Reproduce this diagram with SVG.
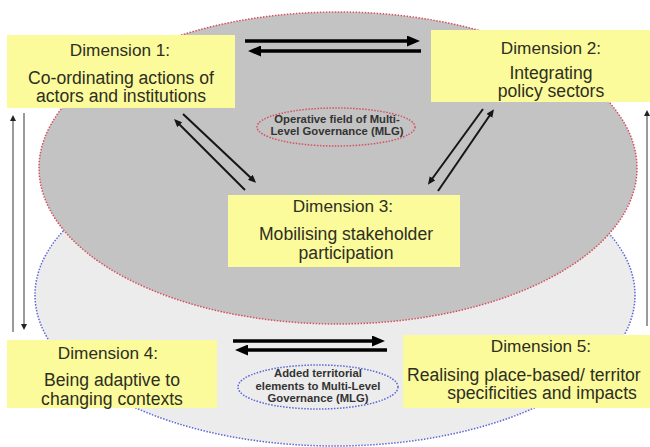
<svg xmlns="http://www.w3.org/2000/svg" width="650" height="447" viewBox="0 0 650 447">
  <style>
    .box { fill: #fbfb9c; }
    .head { font-family: "Liberation Sans", Arial, sans-serif; font-size: 17.2px; fill: #2e2e22; text-anchor: middle; }
    .body { font-family: "Liberation Sans", Arial, sans-serif; font-size: 17.6px; fill: #2e2e22; text-anchor: middle; }
    .small { font-family: "Liberation Sans", Arial, sans-serif; font-size: 11.3px; font-weight: bold; fill: #333333; text-anchor: middle; }
    .thick { stroke: #000000; stroke-width: 3.5; fill: none; }
    .thin { stroke: #161616; stroke-width: 2; fill: none; }
    .vert { stroke: #9a9a9a; stroke-width: 2; fill: none; }
  </style>
  <defs>
    <marker id="bigHead" markerUnits="userSpaceOnUse" markerWidth="13" markerHeight="11" refX="1" refY="5.5" orient="auto">
      <path d="M0,0 L13,5.5 L0,11 z" fill="#000000"/>
    </marker>
    <marker id="smallHead" markerUnits="userSpaceOnUse" markerWidth="8" markerHeight="7" refX="1" refY="3.5" orient="auto">
      <path d="M0,0 L8,3.5 L0,7 z" fill="#161616"/>
    </marker>
    <marker id="tinyHead" markerUnits="userSpaceOnUse" markerWidth="6" markerHeight="6" refX="1" refY="3" orient="auto">
      <path d="M0,0 L6,3 L0,6 z" fill="#222222"/>
    </marker>
  </defs>

  <rect x="0" y="0" width="650" height="447" fill="#ffffff"/>

  <!-- fields -->
  <g id="territorial-field">
    <ellipse cx="335" cy="295" rx="300" ry="151" fill="#ececec" stroke="#5a66d6" stroke-width="1.5" stroke-dasharray="1.5 1.5"/>
  </g>
  <g id="operative-field">
    <ellipse cx="338" cy="168" rx="299" ry="156" fill="#c3c3c3" stroke="#d6505e" stroke-width="1.5" stroke-dasharray="1.5 1.5"/>
  </g>

  <g id="mlg-operative">
    <ellipse cx="336" cy="127" rx="79" ry="19" fill="none" stroke="#d6505e" stroke-width="1.5" stroke-dasharray="1.5 1.5"/>
    <text class="small" x="337" y="123">Operative field of Multi-</text>
    <text class="small" x="337" y="135">Level Governance (MLG)</text>
  </g>

  <g id="mlg-added">
    <ellipse cx="318" cy="387" rx="80" ry="22" fill="none" stroke="#5a66d6" stroke-width="1.5" stroke-dasharray="1.5 1.5"/>
    <text class="small" x="318" y="377">Added territorial</text>
    <text class="small" x="318" y="389.5">elements to Multi-Level</text>
    <text class="small" x="318" y="402">Governance (MLG)</text>
  </g>

  <g id="dim1">
    <rect class="box" x="7" y="35" width="228" height="73"/>
    <text class="head" x="120" y="56">Dimension 1:</text>
    <text class="body" x="121" y="83.5">Co-ordinating actions of</text>
    <text class="body" x="121" y="102">actors and institutions</text>
  </g>

  <g id="dim2">
    <rect class="box" x="431" y="30" width="219" height="72"/>
    <text class="head" x="551" y="54">Dimension 2:</text>
    <text class="body" x="551" y="78.5">Integrating</text>
    <text class="body" x="551" y="97">policy sectors</text>
  </g>

  <g id="dim3">
    <rect class="box" x="228" y="195" width="232" height="72"/>
    <text class="head" x="343" y="212">Dimension 3:</text>
    <text class="body" x="346" y="240">Mobilising stakeholder</text>
    <text class="body" x="346" y="258.5">participation</text>
  </g>

  <g id="dim4">
    <rect class="box" x="7" y="340" width="210" height="68"/>
    <text class="head" x="108" y="359">Dimension 4:</text>
    <text class="body" x="112" y="386">Being adaptive to</text>
    <text class="body" x="112" y="404.5">changing contexts</text>
  </g>

  <g id="dim5">
    <rect class="box" x="403" y="335" width="247" height="73"/>
    <text class="head" x="541" y="352">Dimension 5:</text>
    <text class="body" x="407" y="380.5" style="text-anchor:start">Realising place-based/ territor</text>
    <text class="body" x="542" y="399">specificities and impacts</text>
  </g>

  <g id="connectors">
    <!-- top pair: Dim1 <-> Dim2 -->
    <line class="thick" x1="245" y1="41" x2="408" y2="41" marker-end="url(#bigHead)"/>
    <line class="thick" x1="421" y1="51" x2="260" y2="51" marker-end="url(#bigHead)"/>
    <!-- bottom pair: Dim4 <-> Dim5 -->
    <line class="thick" x1="233" y1="341" x2="373" y2="341" marker-end="url(#bigHead)"/>
    <line class="thick" x1="387" y1="350" x2="247" y2="350" marker-end="url(#bigHead)"/>
    <!-- Dim1 <-> Dim3 -->
    <line class="thin" x1="183" y1="114" x2="251" y2="178" marker-end="url(#smallHead)"/>
    <line class="thin" x1="245" y1="190" x2="179" y2="124" marker-end="url(#smallHead)"/>
    <!-- Dim2 <-> Dim3 -->
    <line class="thin" x1="483" y1="109" x2="432" y2="179" marker-end="url(#smallHead)"/>
    <line class="thin" x1="438" y1="191" x2="490" y2="115" marker-end="url(#smallHead)"/>
    <!-- vertical arrows -->
    <line class="vert" x1="13" y1="332" x2="13" y2="120" marker-end="url(#tinyHead)"/>
    <line class="vert" x1="24" y1="113" x2="24" y2="325" marker-end="url(#tinyHead)"/>
    <line class="vert" x1="647" y1="326" x2="647" y2="115" marker-end="url(#tinyHead)"/>
  </g>
</svg>
